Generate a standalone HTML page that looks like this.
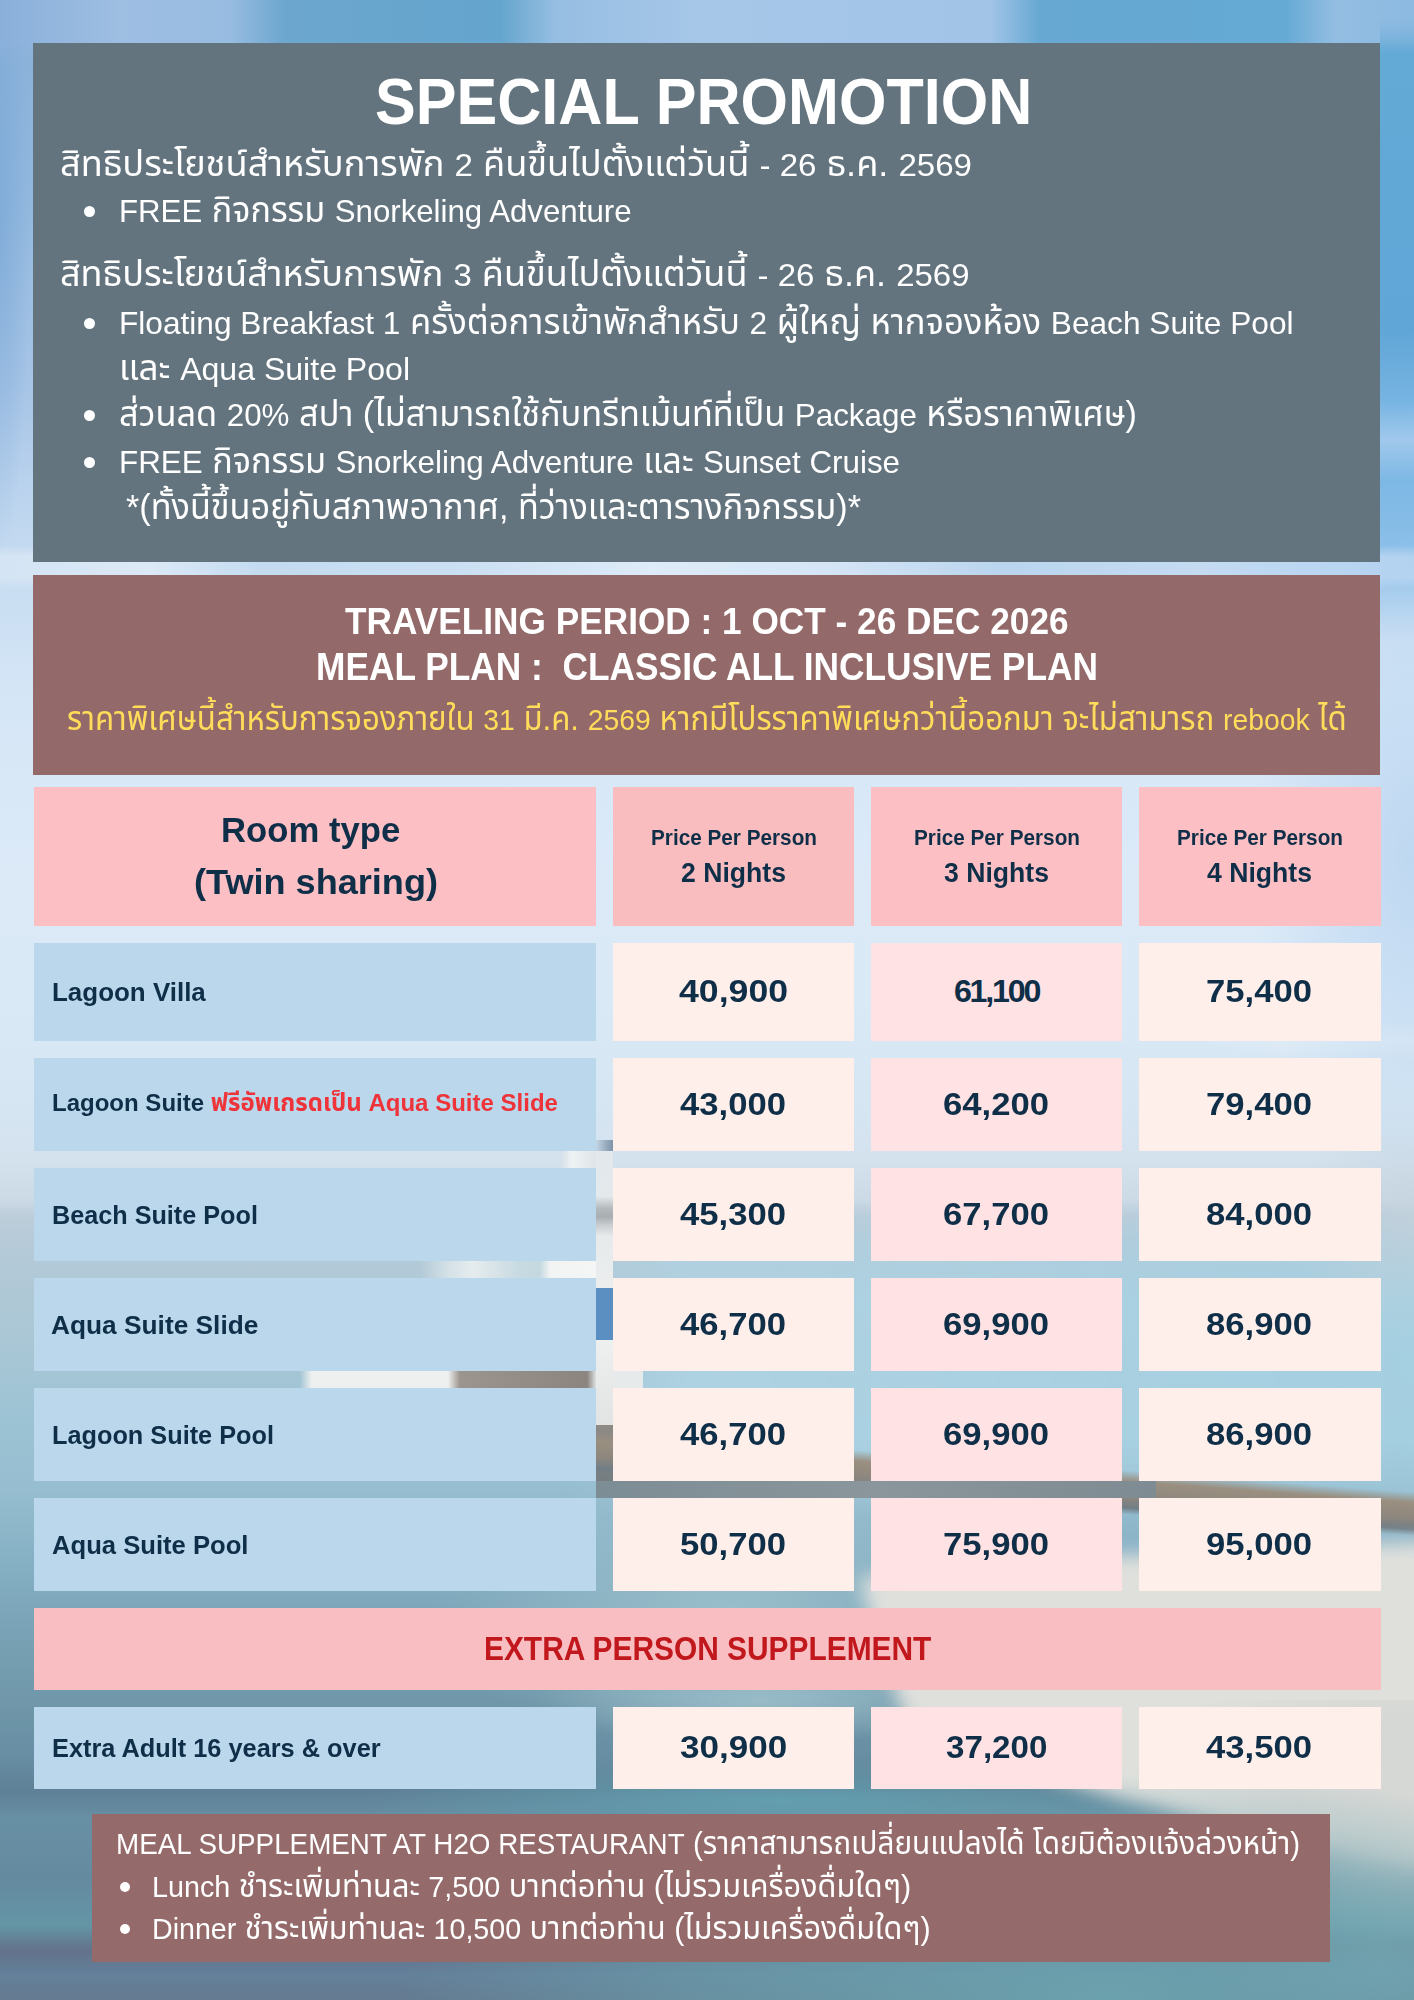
<!DOCTYPE html><html><head><meta charset="utf-8"><title>Special Promotion</title><style>
html,body{margin:0;padding:0}body{width:1414px;height:2000px;position:relative;overflow:hidden;background:#9cc0dc;font-family:'Liberation Sans','Noto Sans Thai',sans-serif}
.bx{position:absolute}.ln{position:absolute;white-space:nowrap;line-height:1;transform-origin:0 0}
.la{font-family:'Liberation Sans',sans-serif}.bm{display:inline-block;width:0;height:0}
.bu{position:absolute;border-radius:50%;background:#fff}
</style></head><body>
<div style="position:absolute;left:0;top:0;width:1414px;height:2000px;background:linear-gradient(to bottom, #88B0D8 0px, #92B8DE 200px, #A6C4E6 380px, #BCD4EE 500px, #C8DDF2 580px, #D5E6F6 700px, #DCEAF8 880px, #DAE9F6 1000px, #D6E6F3 1100px, #D4E2EE 1160px, #CCDAE6 1200px, #BDCDDA 1216px, #B6CAD8 1240px, #ABC7D5 1330px, #9CC3D4 1420px, #96BED0 1490px, #86B0C4 1560px, #7BA4B8 1620px, #7098AA 1700px, #668DA2 1760px, #5F8096 1790px, #6890A5 1820px, #648AA0 1880px, #6496A6 1925px, #62728A 1950px, #64809A 1975px, #647A90 2000px)"></div>
<div style="position:absolute;left:0;top:0;width:1414px;height:2000px;background:radial-gradient(ellipse 300px 140px at 730px 1610px, rgba(158,194,205,0.85), rgba(158,194,205,0) 100%), radial-gradient(ellipse 220px 45px at 760px 1700px, rgba(162,195,205,0.75), rgba(162,195,205,0) 100%), radial-gradient(ellipse 420px 40px at 780px 1801px, rgba(98,163,178,0.85), rgba(98,163,178,0) 100%), radial-gradient(ellipse 30px 330px at 0px 230px, rgba(110,160,210,0.5), rgba(110,160,210,0) 100%)"></div>
<div style="position:absolute;left:0;top:0;width:1414px;height:70px;-webkit-mask-image:linear-gradient(to bottom,#000 0,#000 40px,transparent 70px);mask-image:linear-gradient(to bottom,#000 0,#000 40px,transparent 70px);background:linear-gradient(to right, rgb(138,176,218) 0px, rgb(158,190,226) 120px, rgb(152,188,225) 230px, rgb(108,166,206) 285px, rgb(100,165,205) 500px, rgb(150,190,226) 555px, rgb(166,199,232) 700px, rgb(162,196,231) 990px, rgb(102,168,210) 1040px, rgb(100,170,212) 1285px, rgb(148,189,226) 1335px, rgb(140,186,225) 1414px)"></div>
<div style="position:absolute;left:1380px;top:0;width:34px;height:640px;-webkit-mask-image:linear-gradient(to bottom,transparent 0,transparent 18px,#000 50px);mask-image:linear-gradient(to bottom,transparent 0,transparent 18px,#000 50px);background:linear-gradient(to bottom, rgb(140,186,225) 0px, rgb(100,170,214) 55px, rgb(96,166,215) 330px, rgb(118,180,226) 400px, rgb(160,200,236) 440px, rgb(125,184,228) 480px, rgb(140,192,233) 560px, rgba(170,205,240,0) 640px)"></div>
<div style="position:absolute;left:0;top:545px;width:1414px;height:45px;-webkit-mask-image:linear-gradient(to bottom,transparent 0,#000 12px,#000 33px,transparent 45px);mask-image:linear-gradient(to bottom,transparent 0,#000 12px,#000 33px,transparent 45px);background:linear-gradient(to right, rgb(212,228,244) 0px, rgb(220,233,246) 150px, rgb(196,219,240) 260px, rgb(202,223,242) 450px, rgb(222,235,248) 650px, rgb(214,230,246) 820px, rgb(186,213,238) 1000px, rgb(196,219,242) 1200px, rgb(178,210,240) 1414px)"></div>
<div style="position:absolute;left:560px;top:1200px;width:854px;height:320px;-webkit-mask-image:linear-gradient(to bottom,transparent 0,rgba(0,0,0,.5) 40px,#000 100px,#000 75%,transparent 100%);mask-image:linear-gradient(to bottom,transparent 0,rgba(0,0,0,.5) 40px,#000 100px,#000 75%,transparent 100%);background:linear-gradient(to right, rgba(175,212,228,0) 0%, rgba(175,212,228,0.85) 15%, rgba(165,208,226,0.9) 100%)"></div>
<div style="position:absolute;left:0;top:0;width:1414px;height:2000px;background:radial-gradient(ellipse 160px 330px at 1414px 860px, rgba(185,213,240,0.85), rgba(185,213,240,0) 100%), radial-gradient(ellipse 200px 20px at 1400px 1040px, rgba(235,242,248,0.7), rgba(235,242,248,0) 100%), radial-gradient(ellipse 120px 120px at 1414px 1220px, rgba(196,210,220,0.7), rgba(196,210,220,0) 100%)"></div>
<div style="position:absolute;left:596px;top:1140px;width:17px;height:11px;background:linear-gradient(to right,#c4d6e4 0,#9fb2c4 50%,#7d93a8 100%)"></div>
<div style="position:absolute;left:596px;top:1151px;width:17px;height:137px;background:linear-gradient(to bottom,#e2e8ec 0,#e4e9ec 33%,#b4b9bc 42%,#a9aeb2 48%,#c9cdcf 54%,#e6eaeb 62%,#eceeee 100%)"></div>
<div style="position:absolute;left:596px;top:1288px;width:17px;height:52px;background:#5b8fc2"></div>
<div style="position:absolute;left:596px;top:1340px;width:17px;height:85px;background:linear-gradient(to bottom,#eef0f0,#e2e4e4)"></div>
<div style="position:absolute;left:596px;top:1425px;width:17px;height:70px;background:linear-gradient(to bottom,#8f8a85,#6f7a80)"></div>
<div style="position:absolute;left:562px;top:1151px;width:34px;height:17px;background:linear-gradient(to right,#d8e2ea,#eef2f3 30%,#dfe5e8 100%)"></div>
<div style="position:absolute;left:420px;top:1261px;width:176px;height:17px;background:linear-gradient(to right,rgba(200,220,228,0) 0,#d2e0e6 15%,#e6ecee 30%,#c9dbe2 55%,#c4d8e0 68%,#f2f4f4 74%,#f4f5f5 100%)"></div>
<div style="position:absolute;left:300px;top:1371px;width:296px;height:17px;background:linear-gradient(to right,rgba(238,240,239,0) 0,#eef0ef 4%,#eef0ef 50%,#9c948e 54%,#8b847f 97%,#dfe2e2 100%)"></div>
<div style="position:absolute;left:613px;top:1371px;width:30px;height:17px;background:#e6eaea"></div>
<div style="position:absolute;left:590px;top:1430px;width:840px;height:44px;transform-origin:0 0;transform:rotate(4.3deg);background:linear-gradient(to bottom, rgba(150,138,122,0) 0%, #9a8f80 25%, #8e877e 60%, #717e86 85%, rgba(110,125,135,0) 100%)"></div>
<div style="position:absolute;left:596px;top:1481px;width:560px;height:17px;background:linear-gradient(to right,#7d8d95,#8a969b 50%,#7e8b92 100%)"></div>
<div style="position:absolute;left:-60px;top:0;width:1560px;height:2000px;filter:blur(9px)"><div style="position:absolute;left:0;top:0;width:1560px;height:2000px;background:#dfe0dc;clip-path:polygon(920px 1578px, 1060px 1560px, 1260px 1552px, 1474px 1542px, 1560px 1542px, 1560px 1870px, 1474px 1862px, 1310px 1830px, 1180px 1800px, 1060px 1762px, 965px 1718px, 940px 1650px)"></div></div>
<div style="position:absolute;left:1100px;top:1700px;width:314px;height:300px;background:radial-gradient(ellipse 260px 150px at 100% 30%, rgba(214,216,213,0.95) 0%, rgba(212,214,212,0.85) 45%, rgba(200,208,208,0) 100%), radial-gradient(ellipse 200px 120px at 90% 85%, rgba(135,178,186,0.6), rgba(135,178,186,0) 100%)"></div>
<div style="position:absolute;left:400px;top:1760px;width:1014px;height:240px;background:radial-gradient(ellipse 70% 95% at 70% 100%, rgba(108,165,176,0.9), rgba(108,165,176,0.5) 60%, rgba(108,165,176,0) 100%)"></div>

<div class="bx" style="left:33.4px;top:43.2px;width:1347px;height:518.7px;background:#63747E"></div>
<div class="bx" style="left:33.4px;top:574.6px;width:1347px;height:200px;background:#936969"></div>
<div class="bx" style="left:34px;top:787.3px;width:562.3px;height:138.7px;background:#FCBFC4"></div>
<div class="bx" style="left:613px;top:787.3px;width:241px;height:138.7px;background:#F9BDBF"></div>
<div class="bx" style="left:871px;top:787.3px;width:251px;height:138.7px;background:#FCBFC4"></div>
<div class="bx" style="left:1139px;top:787.3px;width:242px;height:138.7px;background:#FCBFC4"></div>
<div class="bx" style="left:34px;top:943px;width:562.3px;height:98px;background:#BBD7EC"></div>
<div class="bx" style="left:613px;top:943px;width:241px;height:98px;background:#FEEFEB"></div>
<div class="bx" style="left:871px;top:943px;width:251px;height:98px;background:#FFE2E4"></div>
<div class="bx" style="left:1139px;top:943px;width:242px;height:98px;background:#FEEFEB"></div>
<div class="bx" style="left:34px;top:1058px;width:562.3px;height:93px;background:#BBD7EC"></div>
<div class="bx" style="left:613px;top:1058px;width:241px;height:93px;background:#FEEFEB"></div>
<div class="bx" style="left:871px;top:1058px;width:251px;height:93px;background:#FFE2E4"></div>
<div class="bx" style="left:1139px;top:1058px;width:242px;height:93px;background:#FEEFEB"></div>
<div class="bx" style="left:34px;top:1168px;width:562.3px;height:93px;background:#BBD7EC"></div>
<div class="bx" style="left:613px;top:1168px;width:241px;height:93px;background:#FEEFEB"></div>
<div class="bx" style="left:871px;top:1168px;width:251px;height:93px;background:#FFE2E4"></div>
<div class="bx" style="left:1139px;top:1168px;width:242px;height:93px;background:#FEEFEB"></div>
<div class="bx" style="left:34px;top:1278px;width:562.3px;height:93px;background:#BBD7EC"></div>
<div class="bx" style="left:613px;top:1278px;width:241px;height:93px;background:#FEEFEB"></div>
<div class="bx" style="left:871px;top:1278px;width:251px;height:93px;background:#FFE2E4"></div>
<div class="bx" style="left:1139px;top:1278px;width:242px;height:93px;background:#FEEFEB"></div>
<div class="bx" style="left:34px;top:1388px;width:562.3px;height:93px;background:#BBD7EC"></div>
<div class="bx" style="left:613px;top:1388px;width:241px;height:93px;background:#FEEFEB"></div>
<div class="bx" style="left:871px;top:1388px;width:251px;height:93px;background:#FFE2E4"></div>
<div class="bx" style="left:1139px;top:1388px;width:242px;height:93px;background:#FEEFEB"></div>
<div class="bx" style="left:34px;top:1498px;width:562.3px;height:93px;background:#BBD7EC"></div>
<div class="bx" style="left:613px;top:1498px;width:241px;height:93px;background:#FEEFEB"></div>
<div class="bx" style="left:871px;top:1498px;width:251px;height:93px;background:#FFE2E4"></div>
<div class="bx" style="left:1139px;top:1498px;width:242px;height:93px;background:#FEEFEB"></div>
<div class="bx" style="left:34px;top:1608px;width:1346.8px;height:82px;background:#F9BEC1"></div>
<div class="bx" style="left:34px;top:1707px;width:562.3px;height:82px;background:#BBD7EC"></div>
<div class="bx" style="left:613px;top:1707px;width:241px;height:82px;background:#FEEFEB"></div>
<div class="bx" style="left:871px;top:1707px;width:251px;height:82px;background:#FFE2E4"></div>
<div class="bx" style="left:1139px;top:1707px;width:242px;height:82px;background:#FEEFEB"></div>
<div class="bx" style="left:92px;top:1814px;width:1238px;height:148px;background:#946A6A"></div>
<div class="bu" style="left:83.7px;top:206.2px;width:11px;height:11px"></div>
<div class="bu" style="left:83.7px;top:318.0px;width:11px;height:11px"></div>
<div class="bu" style="left:83.7px;top:410.0px;width:11px;height:11px"></div>
<div class="bu" style="left:83.7px;top:456.5px;width:11px;height:11px"></div>
<div class="bu" style="left:119.9px;top:1881.5px;width:10px;height:10px"></div>
<div class="bu" style="left:119.9px;top:1923.5px;width:10px;height:10px"></div>
<div class="ln" id="h1" style="left:374.60px;top:69.40px;font-size:65px;color:#fff;font-weight:700;transform:scaleX(0.9399);">SPECIAL PROMOTION</div>
<div class="ln" id="g1" style="left:60.00px;top:146.00px;font-size:35px;color:#fff;transform:scaleX(1.0328);">สิทธิประโยชน์สำหรับการพัก <span class="la" style="font-size:32px">2</span> คืนขึ้นไปตั้งแต่วันนี้ <span class="la" style="font-size:32px">- 26</span> ธ.ค. <span class="la" style="font-size:32px">2569</span></div>
<div class="ln" id="g2" style="left:118.50px;top:192.00px;font-size:35px;color:#fff;transform:scaleX(0.9757);"><span class="la" style="font-size:32px">FREE</span> กิจกรรม <span class="la" style="font-size:32px">Snorkeling Adventure</span></div>
<div class="ln" id="g3" style="left:60.00px;top:256.40px;font-size:35px;color:#fff;transform:scaleX(1.0300);">สิทธิประโยชน์สำหรับการพัก <span class="la" style="font-size:32px">3</span> คืนขึ้นไปตั้งแต่วันนี้ <span class="la" style="font-size:32px">- 26</span> ธ.ค. <span class="la" style="font-size:32px">2569</span></div>
<div class="ln" id="g4" style="left:118.50px;top:304.00px;font-size:35px;color:#fff;transform:scaleX(0.9887);"><span class="la" style="font-size:32px">Floating Breakfast 1</span> ครั้งต่อการเข้าพักสำหรับ <span class="la" style="font-size:32px">2</span> ผู้ใหญ่ หากจองห้อง <span class="la" style="font-size:32px">Beach Suite Pool</span></div>
<div class="ln" id="g5" style="left:119.00px;top:349.50px;font-size:35px;color:#fff;transform:scaleX(1.0015);">และ <span class="la" style="font-size:32px">Aqua Suite Pool</span></div>
<div class="ln" id="g6" style="left:118.50px;top:396.00px;font-size:35px;color:#fff;transform:scaleX(0.9798);">ส่วนลด <span class="la" style="font-size:32px">20%</span> สปา (ไม่สามารถใช้กับทรีทเม้นท์ที่เป็น <span class="la" style="font-size:32px">Package</span> หรือราคาพิเศษ)</div>
<div class="ln" id="g7" style="left:118.50px;top:442.50px;font-size:35px;color:#fff;transform:scaleX(0.9799);"><span class="la" style="font-size:32px">FREE</span> กิจกรรม <span class="la" style="font-size:32px">Snorkeling Adventure</span> และ <span class="la" style="font-size:32px">Sunset Cruise</span></div>
<div class="ln" id="g8" style="left:126.00px;top:488.70px;font-size:35px;color:#fff;transform:scaleX(0.9773);">*(ทั้งนี้ขึ้นอยู่กับสภาพอากาศ, ที่ว่างและตารางกิจกรรม)*</div>
<div class="ln" id="b1" style="left:344.60px;top:603.10px;font-size:37.8px;color:#fff;font-weight:700;transform:scaleX(0.9320);">TRAVELING PERIOD : 1 OCT - 26 DEC 2026</div>
<div class="ln" id="b2" style="left:316.00px;top:648.20px;font-size:38.5px;color:#fff;font-weight:700;transform:scaleX(0.9170);">MEAL PLAN :&nbsp; CLASSIC ALL INCLUSIVE PLAN</div>
<div class="ln" id="b3" style="left:67.00px;top:701.50px;font-size:33px;color:#FFDC5A;transform:scaleX(0.9450);">ราคาพิเศษนี้สำหรับการจองภายใน <span class="la" style="font-size:30px">31</span> มี.ค. <span class="la" style="font-size:30px">2569</span> หากมีโปรราคาพิเศษกว่านี้ออกมา จะไม่สามารถ <span class="la" style="font-size:30px">rebook</span> ได้</div>
<div class="ln" id="t_rt" style="left:221.40px;top:812.80px;font-size:34.9px;color:#0F2E48;font-weight:700;transform:scaleX(0.9946);">Room type</div>
<div class="ln" id="t_tw" style="left:193.80px;top:864.80px;font-size:34.9px;color:#0F2E48;font-weight:700;transform:scaleX(1.0347);">(Twin sharing)</div>
<div class="ln" id="pp0" style="left:650.50px;top:826.70px;font-size:21.8px;color:#0F2E48;font-weight:700;transform:scaleX(0.9514);">Price Per Person</div>
<div class="ln" id="nn0" style="left:681.00px;top:859.50px;font-size:26.9px;color:#0F2E48;font-weight:700;transform:scaleX(0.9897);">2 Nights</div>
<div class="ln" id="pp1" style="left:913.50px;top:826.70px;font-size:21.8px;color:#0F2E48;font-weight:700;transform:scaleX(0.9514);">Price Per Person</div>
<div class="ln" id="nn1" style="left:944.00px;top:859.50px;font-size:26.9px;color:#0F2E48;font-weight:700;transform:scaleX(0.9897);">3 Nights</div>
<div class="ln" id="pp2" style="left:1176.50px;top:826.70px;font-size:21.8px;color:#0F2E48;font-weight:700;transform:scaleX(0.9514);">Price Per Person</div>
<div class="ln" id="nn2" style="left:1207.00px;top:859.50px;font-size:26.9px;color:#0F2E48;font-weight:700;transform:scaleX(0.9897);">4 Nights</div>
<div class="ln" id="r0" style="left:52.40px;top:979.20px;font-size:26.6px;color:#0F2E48;font-weight:700;transform:scaleX(0.9757);">Lagoon Villa</div>
<div class="ln" id="p00" style="left:678.96px;top:975.30px;font-size:32.2px;color:#0F2E48;font-weight:700;transform:scaleX(1.1080);">40,900</div>
<div class="ln" id="p01" style="left:953.88px;top:975.30px;font-size:32.2px;color:#0F2E48;font-weight:700;letter-spacing:-2.2px;">61,100</div>
<div class="ln" id="p02" style="left:1206.48px;top:975.30px;font-size:32.2px;color:#0F2E48;font-weight:700;transform:scaleX(1.0770);">75,400</div>
<div class="ln" id="r1" style="left:51.50px;top:1090.50px;font-size:24.5px;color:#0F2E48;font-weight:700;transform:scaleX(0.9802);">Lagoon Suite <span style="color:#EE3339">ฟรีอัพเกรดเป็น Aqua Suite Slide</span></div>
<div class="ln" id="p10" style="left:680.48px;top:1087.80px;font-size:32.2px;color:#0F2E48;font-weight:700;transform:scaleX(1.0770);">43,000</div>
<div class="ln" id="p11" style="left:943.48px;top:1087.80px;font-size:32.2px;color:#0F2E48;font-weight:700;transform:scaleX(1.0770);">64,200</div>
<div class="ln" id="p12" style="left:1206.48px;top:1087.80px;font-size:32.2px;color:#0F2E48;font-weight:700;transform:scaleX(1.0770);">79,400</div>
<div class="ln" id="r2" style="left:52.00px;top:1201.70px;font-size:26.6px;color:#0F2E48;font-weight:700;transform:scaleX(0.9478);">Beach Suite Pool</div>
<div class="ln" id="p20" style="left:680.48px;top:1197.80px;font-size:32.2px;color:#0F2E48;font-weight:700;transform:scaleX(1.0770);">45,300</div>
<div class="ln" id="p21" style="left:943.48px;top:1197.80px;font-size:32.2px;color:#0F2E48;font-weight:700;transform:scaleX(1.0770);">67,700</div>
<div class="ln" id="p22" style="left:1206.48px;top:1197.80px;font-size:32.2px;color:#0F2E48;font-weight:700;transform:scaleX(1.0770);">84,000</div>
<div class="ln" id="r3" style="left:51.40px;top:1311.70px;font-size:26.6px;color:#0F2E48;font-weight:700;transform:scaleX(0.9884);">Aqua Suite Slide</div>
<div class="ln" id="p30" style="left:680.48px;top:1307.80px;font-size:32.2px;color:#0F2E48;font-weight:700;transform:scaleX(1.0770);">46,700</div>
<div class="ln" id="p31" style="left:943.48px;top:1307.80px;font-size:32.2px;color:#0F2E48;font-weight:700;transform:scaleX(1.0770);">69,900</div>
<div class="ln" id="p32" style="left:1206.48px;top:1307.80px;font-size:32.2px;color:#0F2E48;font-weight:700;transform:scaleX(1.0770);">86,900</div>
<div class="ln" id="r4" style="left:51.50px;top:1421.70px;font-size:26.6px;color:#0F2E48;font-weight:700;transform:scaleX(0.9510);">Lagoon Suite Pool</div>
<div class="ln" id="p40" style="left:680.48px;top:1417.80px;font-size:32.2px;color:#0F2E48;font-weight:700;transform:scaleX(1.0770);">46,700</div>
<div class="ln" id="p41" style="left:943.48px;top:1417.80px;font-size:32.2px;color:#0F2E48;font-weight:700;transform:scaleX(1.0770);">69,900</div>
<div class="ln" id="p42" style="left:1206.48px;top:1417.80px;font-size:32.2px;color:#0F2E48;font-weight:700;transform:scaleX(1.0770);">86,900</div>
<div class="ln" id="r5" style="left:51.50px;top:1531.70px;font-size:26.6px;color:#0F2E48;font-weight:700;transform:scaleX(0.9637);">Aqua Suite Pool</div>
<div class="ln" id="p50" style="left:680.48px;top:1527.80px;font-size:32.2px;color:#0F2E48;font-weight:700;transform:scaleX(1.0770);">50,700</div>
<div class="ln" id="p51" style="left:943.48px;top:1527.80px;font-size:32.2px;color:#0F2E48;font-weight:700;transform:scaleX(1.0770);">75,900</div>
<div class="ln" id="p52" style="left:1206.48px;top:1527.80px;font-size:32.2px;color:#0F2E48;font-weight:700;transform:scaleX(1.0770);">95,000</div>
<div class="ln" id="sup" style="left:484.30px;top:1632.00px;font-size:33.4px;color:#C1181E;font-weight:700;transform:scaleX(0.8952);">EXTRA PERSON SUPPLEMENT</div>
<div class="ln" id="ea" style="left:52.00px;top:1735.00px;font-size:26.2px;color:#0F2E48;font-weight:700;transform:scaleX(0.9675);">Extra Adult 16 years &amp; over</div>
<div class="ln" id="ep0" style="left:679.84px;top:1731.30px;font-size:32.2px;color:#0F2E48;font-weight:700;transform:scaleX(1.0900);">30,900</div>
<div class="ln" id="ep1" style="left:945.80px;top:1731.30px;font-size:32.2px;color:#0F2E48;font-weight:700;transform:scaleX(1.0300);">37,200</div>
<div class="ln" id="ep2" style="left:1206.48px;top:1731.30px;font-size:32.2px;color:#0F2E48;font-weight:700;transform:scaleX(1.0770);">43,500</div>
<div class="ln" id="m1" style="left:115.60px;top:1827.00px;font-size:32px;color:#fff;transform:scaleX(0.9269);"><span class="la" style="font-size:30px">MEAL SUPPLEMENT AT H2O RESTAURANT</span> (ราคาสามารถเปลี่ยนแปลงได้ โดยมิต้องแจ้งล่วงหน้า)</div>
<div class="ln" id="m2" style="left:152.30px;top:1870.00px;font-size:32px;color:#fff;transform:scaleX(0.9577);"><span class="la" style="font-size:30px">Lunch</span> ชำระเพิ่มท่านละ <span class="la" style="font-size:30px">7,500</span> บาทต่อท่าน (ไม่รวมเครื่องดื่มใดๆ)</div>
<div class="ln" id="m3" style="left:152.30px;top:1911.80px;font-size:32px;color:#fff;transform:scaleX(0.9542);"><span class="la" style="font-size:30px">Dinner</span> ชำระเพิ่มท่านละ <span class="la" style="font-size:30px">10,500</span> บาทต่อท่าน (ไม่รวมเครื่องดื่มใดๆ)</div>
</body></html>
